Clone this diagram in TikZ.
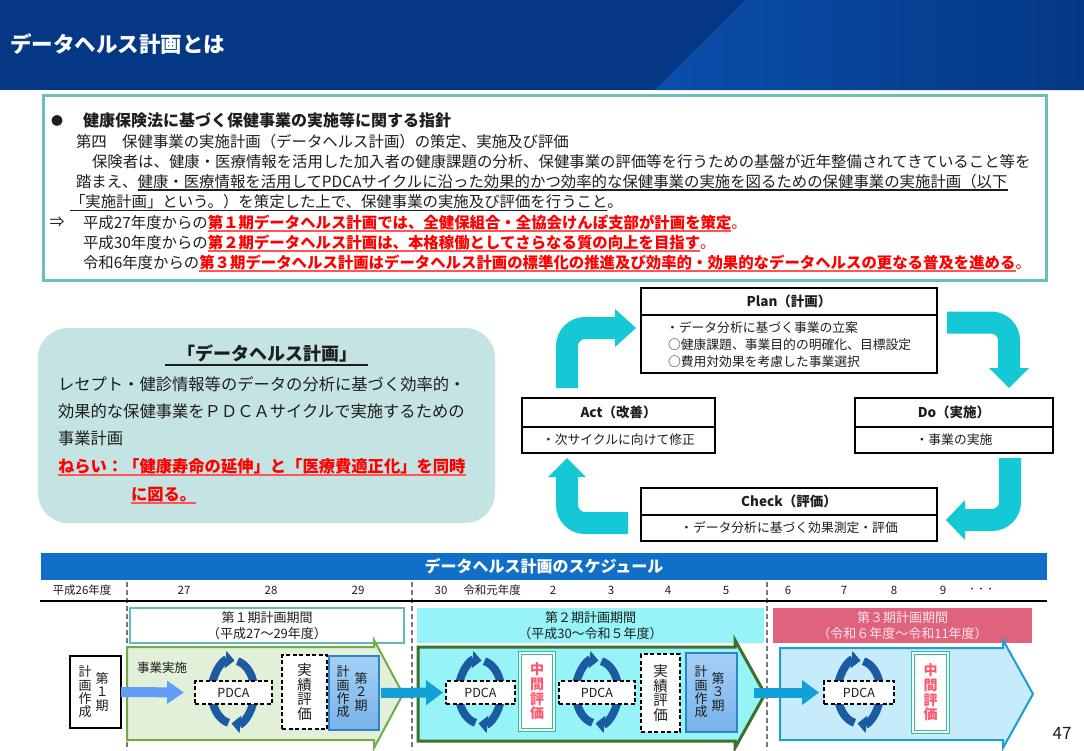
\documentclass[tikz,border=0pt]{standalone}
\usepackage{fontspec}
\setmainfont{Noto Sans CJK JP}
\usetikzlibrary{arrows.meta}
\definecolor{navy}{RGB}{4,56,132}
\definecolor{navyL}{RGB}{10,78,172}
\definecolor{txt}{RGB}{30,30,30}
\definecolor{tealB}{RGB}{108,190,184}
\definecolor{ulred}{RGB}{255,85,85}
\definecolor{cyanA}{RGB}{20,200,214}
\definecolor{lbox}{RGB}{196,227,227}
\definecolor{barblue}{RGB}{16,112,198}
\definecolor{dashgray}{RGB}{120,120,120}
\definecolor{pAfill}{RGB}{226,240,217}
\definecolor{pAline}{RGB}{112,173,71}
\definecolor{pBfill}{RGB}{150,243,248}
\definecolor{pBline}{RGB}{62,112,44}
\definecolor{pCfill}{RGB}{198,236,251}
\definecolor{pCline}{RGB}{30,156,215}
\definecolor{pinkC}{RGB}{224,99,125}
\definecolor{pinktxt}{RGB}{255,230,235}
\definecolor{perA}{RGB}{98,185,181}
\definecolor{arrL}{RGB}{100,156,246}
\definecolor{arrC}{RGB}{18,160,216}
\definecolor{cycb}{RGB}{28,90,162}
\definecolor{midg}{RGB}{40,196,150}
\definecolor{midr}{RGB}{255,88,110}
\definecolor{ktop}{RGB}{165,208,246}
\definecolor{kbot}{RGB}{118,178,234}
\definecolor{kline}{RGB}{50,130,200}
\newcommand\kul[1]{\setbox0\hbox{#1}\rlap{\color{txt}\rule[-3.6pt]{\wd0}{1.3pt}}\box0}
\newcommand\rul[1]{\setbox0\hbox{\bfseries\color{red}#1}\rlap{\color{ulred}\rule[-3.8pt]{\wd0}{1.7pt}}\box0}
\newcommand\pdcacycle[1]{%
 \begin{scope}[shift={#1}]
  \draw[cyc,-{Triangle[length=9pt,width=17pt]}] (168:21.5pt and 31.5pt) arc[start angle=168,end angle=86,x radius=21.5pt,y radius=31.5pt];
  \draw[cyc] (78:21.5pt and 31.5pt) arc[start angle=78,end angle=12,x radius=21.5pt,y radius=31.5pt];
  \draw[cyc,-{Triangle[length=9pt,width=17pt]}] (-12:21.5pt and 31.5pt) arc[start angle=-12,end angle=-94,x radius=21.5pt,y radius=31.5pt];
  \draw[cyc] (-102:21.5pt and 31.5pt) arc[start angle=-102,end angle=-168,x radius=21.5pt,y radius=31.5pt];
 \end{scope}}
\begin{document}
\begin{tikzpicture}[x=1pt,y=-1pt,
  every node/.style={inner sep=0pt,outer sep=0pt,text=txt},
  tl/.style={anchor=base west,font=\fontsize{15.4}{18}\selectfont},
  lt/.style={anchor=west,font=\fontsize{16.3}{18}\selectfont},
  pbh/.style={draw=black,line width=1.6pt,fill=white,anchor=north west,font=\fontsize{13.5}{15}\selectfont\bfseries},
  pbb/.style={draw=black,line width=1.6pt,fill=white,anchor=north west,font=\fontsize{12.8}{15}\selectfont},
  pc/.style={anchor=west,font=\fontsize{12.8}{15}\selectfont},
  yr/.style={font=\fontsize{11.5}{13}\selectfont},
  per/.style={minimum height=35,anchor=north west,align=center,font=\fontsize{13}{16}\selectfont},
  vt/.style={align=center,font=\fontsize{13}{13.4}\selectfont},
  pdcab/.style={draw=black,fill=white,line width=1.3pt,dash pattern=on 4pt off 2.5pt,minimum height=23,font=\fontsize{12.5}{14}\selectfont},
  dbox/.style={draw=black,fill=white,line width=1.5pt,dash pattern=on 4pt off 2.5pt,align=center,font=\fontsize{14.5}{14.8}\selectfont},
  kbox/.style={draw=kline,line width=1.2pt,top color=ktop,bottom color=kbot,anchor=north west},
  midbox/.style={draw=midg,double=white,double distance=1.8pt,line width=1.3pt,fill=white,align=center,text=midr,font=\fontsize{14}{14.6}\selectfont\bfseries},
  cyc/.style={cycb,line width=8pt},
  dashline/.style={dashgray,line width=1.5pt,dash pattern=on 5pt off 3pt},
  bigarr/.style={cyanA,line width=22pt,rounded corners=18pt},
  flowL/.style={arrL,line width=10pt,-{Triangle[length=17pt,width=22pt]}},
  flowC/.style={arrC,line width=10pt,-{Triangle[length=17pt,width=24pt]}}]
\useasboundingbox (0,0) rectangle (1084,750);
\fill[white] (0,0) rectangle (1084,750);
% header
\fill[navy] (0,0) rectangle (1084,90);
\shade[left color=navyL,right color=navy] (745,0) -- (1084,0) -- (1084,90) -- (655,90) -- cycle;
\node[anchor=west,font=\fontsize{21.5}{24}\selectfont\bfseries,text=white] (title) at (10,44) {データヘルス計画とは};
% guideline box
\node[draw=tealB,line width=2.5pt,minimum width=1003,minimum height=185,anchor=north west] (guide) at (43.5,95.5) {};
\node[font=\fontsize{12}{12}\selectfont] (bul) at (57,120.5) {●};
\node[tl,font=\fontsize{16}{18}\selectfont\bfseries] (l1) at (83,126.5) {健康保険法に基づく保健事業の実施等に関する指針};
\node[tl] (l2) at (76,147) {第四　保健事業の実施計画（データヘルス計画）の策定、実施及び評価};
\node[tl] (l3) at (92,167) {保険者は、健康・医療情報を活用した加入者の健康課題の分析、保健事業の評価等を行うための基盤が近年整備されてきていること等を};
\node[tl] (l4) at (76,187) {踏まえ、\kul{健康・医療情報を活用してPDCAサイクルに沿った効果的かつ効率的な保健事業の実施を図るための保健事業の実施計画（以下}};
\node[tl] (l5) at (70,207.5) {\kul{「実施計画」という。）を策定した上で、保健事業の実施及び評価を行うこと}。};
\node[font=\fontsize{15}{18}\selectfont] (imp) at (57,222) {⇒};
\node[tl] (l6) at (83,228) {平成27年度からの\rul{第１期データヘルス計画では、全健保組合・全協会けんぽ支部が計画を策定}。};
\node[tl] (l7) at (83,248) {平成30年度からの\rul{第２期データヘルス計画は、本格稼働としてさらなる質の向上を目指す}。};
\node[tl] (l8) at (83,268) {令和6年度からの\rul{第３期データヘルス計画はデータヘルス計画の標準化の推進及び効率的・効果的なデータヘルスの更なる普及を進める}。};
% left rounded box
\node[fill=lbox,rounded corners=30pt,minimum width=457,minimum height=195,anchor=north west] (dhbox) at (38,328) {};
\node[font=\fontsize{18}{20}\selectfont\bfseries] (dht) at (267,353) {「データヘルス計画」};
\draw[txt,line width=1.8pt] (165,365) -- (368,365);
\node[lt] (dh1) at (58,384) {レセプト・健診情報等のデータの分析に基づく効率的・};
\node[lt] (dh2) at (58,411) {効果的な保健事業をＰＤＣＡサイクルで実施するための};
\node[lt] (dh3) at (58,438) {事業計画};
\node[anchor=base west,font=\fontsize{16.3}{18}\selectfont] (dh4) at (58,472.2) {\rul{ねらい：「健康寿命の延伸」と「医療費適正化」を同時}};
\node[anchor=base west,font=\fontsize{16.3}{18}\selectfont] (dh5) at (131,500.2) {\rul{に図る。}};
% PDCA cycle
\draw[bigarr] (567,388) -- (567,328) -- (616,328);
\fill[cyanA] (615,309) -- (636,328) -- (615,347) -- cycle;
\draw[bigarr] (947,322.5) -- (1009,322.5) -- (1009,369);
\fill[cyanA] (989,368) -- (1009,388) -- (1029,368) -- cycle;
\draw[bigarr] (1010,458) -- (1010,520) -- (964,520);
\fill[cyanA] (965,500) -- (946,520) -- (965,540) -- cycle;
\draw[bigarr] (628,523) -- (567,523) -- (567,476);
\fill[cyanA] (548,477) -- (567,458) -- (586,477) -- cycle;
\node[pbh,minimum width=296,minimum height=27] (planh) at (641,288) {Plan（計画）};
\node[pbb,minimum width=296,minimum height=58] (planb) at (641,315) {};
\node[pc] (pl1) at (666,328) {・データ分析に基づく事業の立案};
\node[pc] (pl2) at (668,345) {○健康課題、事業目的の明確化、目標設定};
\node[pc] (pl3) at (668,361.5) {○費用対効果を考慮した事業選択};
\node[pbh,minimum width=193,minimum height=29] (acth) at (522,398) {Act（改善）};
\node[pbb,minimum width=193,minimum height=26] (actb) at (522,427) {・次サイクルに向けて修正};
\node[pbh,minimum width=198,minimum height=29] (doh) at (855,398) {Do（実施）};
\node[pbb,minimum width=198,minimum height=26] (dob) at (855,427) {・事業の実施};
\node[pbh,minimum width=296,minimum height=27] (chh) at (641,488) {Check（評価）};
\node[pbb,minimum width=296,minimum height=26] (chb) at (641,515) {・データ分析に基づく効果測定・評価};
% schedule
\node[fill=barblue,minimum width=1006,minimum height=27,anchor=north west,text=white,font=\fontsize{16}{18}\selectfont\bfseries] (sbar) at (41,553) {データヘルス計画のスケジュール};
\draw[dashline] (127,582) -- (127,750);
\draw[dashline] (412,582) -- (412,750);
\draw[dashline] (767,582) -- (767,750);
\node[yr] (y26) at (82,590) {平成26年度};
\node[yr] (y27) at (184,590) {27};
\node[yr] (y28) at (271,590) {28};
\node[yr] (y29) at (358,590) {29};
\node[yr] (y30) at (441,590) {30};
\node[yr] (yr1) at (492,590) {令和元年度};
\node[yr] (yr2) at (553,590) {2};
\node[yr] (yr3) at (611,590) {3};
\node[yr] (yr4) at (668,590) {4};
\node[yr] (yr5) at (726,590) {5};
\node[yr] (yr6) at (788,590) {6};
\node[yr] (yr7) at (844,590) {7};
\node[yr] (yr8) at (894,590) {8};
\node[yr] (yr9) at (943,590) {9};
\node[font=\fontsize{9}{10}\selectfont] (ydots) at (981,590) {・・・};
\draw[line width=1.2pt] (40,601) -- (1047,601);
\node[per,draw=perA,line width=2pt,fill=white,minimum width=274] (perA) at (130,608) {第１期計画期間\\（平成27～29年度）};
\node[per,fill=pBfill,minimum width=347] (perB) at (417,608) {第２期計画期間\\（平成30～令和５年度）};
\node[per,fill=pinkC,minimum width=259,text=pinktxt] (perC) at (773,608) {第３期計画期間\\（令和６年度～令和11年度）};
% phase arrows
\draw[pAline,fill=pAfill,line width=2pt] (127,647) -- (374,647) -- (374,640) -- (403,694) -- (374,748) -- (374,740) -- (127,740) -- cycle;
\draw[pBline,fill=pBfill,line width=3pt] (418,647) -- (735,647) -- (735,640) -- (765,694) -- (735,748) -- (735,741) -- (418,741) -- cycle;
\draw[pCline,fill=pCfill,line width=2pt] (780,648) -- (1003,648) -- (1003,640) -- (1033,694) -- (1003,748) -- (1003,740) -- (780,740) -- cycle;
% phase 1 contents
\node[draw=black,line width=1.2pt,fill=white,minimum width=51,minimum height=72,anchor=north west] (kA) at (70,656) {};
\node[vt] (kA1) at (102,692) {第\\１\\期};
\node[vt] (kA2) at (85,692) {計\\画\\作\\成};
\node[font=\fontsize{12.5}{14}\selectfont] (jj) at (162,668) {事業実施};
\pdcacycle{(233,692)}
\node[pdcab,minimum width=77] (pA) at (233.5,692.5) {PDCA};
\node[dbox,minimum width=45,minimum height=74] (jsA) at (304.5,692) {実\\績\\評\\価};
\node[kbox,minimum width=50,minimum height=74] (kB) at (329,656) {};
\node[vt] (kB1) at (361,692) {第\\２\\期};
\node[vt] (kB2) at (343,692) {計\\画\\作\\成};
% phase 2 contents
\pdcacycle{(480,692)}
\node[pdcab,minimum width=69] (pB) at (480.5,692.5) {PDCA};
\node[midbox,minimum width=34,minimum height=77] (midB) at (537,691.5) {中\\間\\評\\価};
\pdcacycle{(597,692)}
\node[pdcab,minimum width=76] (pB2) at (597,692.5) {PDCA};
\node[dbox,minimum width=39,minimum height=78] (jsB) at (660.5,693) {実\\績\\評\\価};
\node[kbox,minimum width=51,minimum height=79] (kC) at (686,653) {};
\node[vt] (kC1) at (718,692) {第\\３\\期};
\node[vt] (kC2) at (701,692) {計\\画\\作\\成};
% phase 3 contents
\pdcacycle{(859,692)}
\node[pdcab,minimum width=70] (pC) at (859,692.5) {PDCA};
\node[midbox,minimum width=35,minimum height=79] (midC) at (930.5,692.5) {中\\間\\評\\価};
% flow arrows
\draw[flowL,shorten >=11pt] (kA.east) -- (pA.west);
\draw[flowC,shorten <=2pt,shorten >=3pt] (kB.east) -- (pB.west);
\draw[flowC,shorten <=17pt,shorten >=5pt] (kC.east) -- (pC.west);
\node[font=\fontsize{17}{20}\selectfont] (pg) at (1062,733) {47};
\end{tikzpicture}
\end{document}
